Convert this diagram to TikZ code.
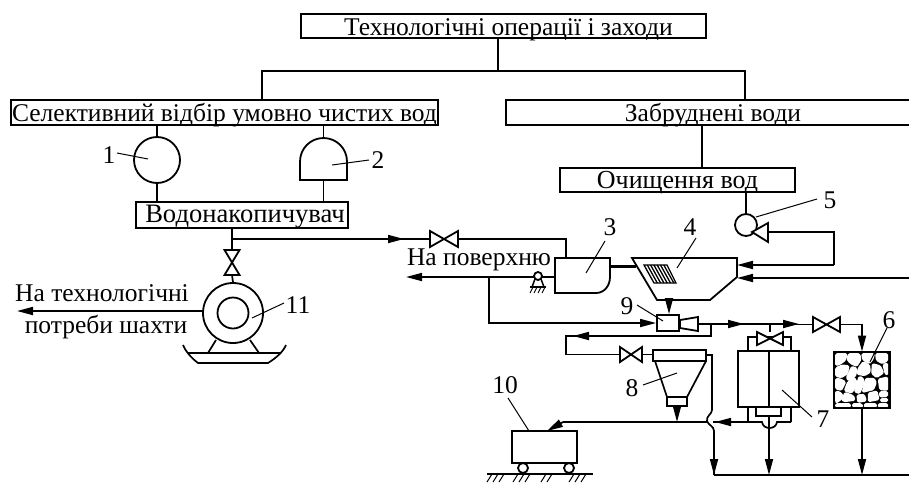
\documentclass[tikz,border=0pt]{standalone}
\usepackage{fontspec}
\setmainfont{Liberation Serif}
\usetikzlibrary{arrows.meta}
\tikzset{
  x=1pt,y=-1pt,
  pipe/.style={line width=1.7pt,line join=miter},
  thin line/.style={line width=1pt},
  flow/.style={pipe,-{Triangle[length=16pt,width=8pt]}},
  titlebox/.style={draw,line width=1.7pt,inner sep=0pt,text height=20pt,text depth=2pt,font=\fontsize{25.5}{25.5}\selectfont},
  lbl/.style={inner sep=0pt,font=\fontsize{25.5}{25.5}\selectfont},
  equip/.style={draw,line width=1.8pt,fill=white},
  cell/.style={fill=white,draw=white,line width=1.7pt,line join=round,rounded corners=1.2pt}
}
\newcommand{\valveH}[5]{% name x y halfw halfh
  \coordinate (#1-l) at (#2-#4,#3);\coordinate (#1-r) at (#2+#4,#3);
  \draw[equip] (#2-#4,#3-#5) -- (#2+#4,#3+#5) -- (#2+#4,#3-#5) -- (#2-#4,#3+#5) -- cycle;}
\newcommand{\valveV}[5]{%
  \coordinate (#1-t) at (#2,#3-#5);\coordinate (#1-b) at (#2,#3+#5);
  \draw[equip] (#2-#4,#3-#5) -- (#2+#4,#3+#5) -- (#2-#4,#3+#5) -- (#2+#4,#3-#5) -- cycle;}
\newcommand{\stone}[1]{\filldraw[cell] #1 -- cycle;}
\begin{document}
\begin{tikzpicture}
\useasboundingbox (0,0) rectangle (909,482);
\clip (0,0) rectangle (909,482);
% title boxes
\node[titlebox,minimum width=405pt,minimum height=24pt] (top) at (503.5,26) {\hspace*{10pt}Технологічні операції і заходи};
\node[titlebox,minimum width=427pt,minimum height=25pt] (sel) at (224.5,112.5) {Селективний відбір умовно чистих вод};
\node[titlebox,minimum width=414pt,minimum height=25pt] (zab) at (713,112.5) {Забруднені води};
\node[titlebox,minimum width=235pt,minimum height=24pt,text height=18pt,font=\fontsize{26}{26}\selectfont] (och) at (677.5,180) {Очищення вод};
\node[titlebox,minimum width=212pt,minimum height=26pt,text height=17pt,text depth=3pt,font=\fontsize{26.6}{26.6}\selectfont] (vod) at (242,215) {\hspace*{6pt}Водонакопичувач};
% tree
\coordinate (tj) at (498,71);
\draw[pipe] (tj |- top.south) -- (tj);
\draw[pipe] (262,100) |- (745,71) -- (745,100);
\draw[pipe] (702,125) -- (702,168);
% equipment 1 and 2
\node[equip,circle,minimum size=46pt,inner sep=0pt] (e1) at (157,160) {};
\draw[pipe] (e1.north |- sel.south) -- (e1.north);
\draw[pipe] (e1.south) -- (e1.south |- vod.north);
\draw[equip] (300,180) -- (300,161.5) .. controls (300,148.5) and (310.5,138) .. (323.5,138) .. controls (336.5,138) and (347,148.5) .. (347,161.5) -- (347,180) -- cycle;
\coordinate (e2t) at (323.5,138);\coordinate (e2b) at (323.5,180);
\draw[pipe] (e2t |- sel.south) -- (e2t);
\draw[pipe] (e2b) -- (e2b |- vod.north);
% valve and pump 11
\coordinate (vj) at (232,239);
\valveV{v11}{232}{262.5}{7.5}{12.5}
\node[equip,circle,minimum size=60pt,inner sep=0pt] (p11) at (233,313) {};
\node[equip,circle,minimum size=31pt,inner sep=0pt] (p11i) at (233,313) {};
\draw[pipe] (vj |- vod.south) -- (v11-t);
\draw[pipe] (v11-b) -- (p11.north);
\coordinate (outl) at (17,311);
\draw[flow] (p11.west |- outl) -- (outl);
\draw[pipe] (216,340) -- (208,353);
\draw[pipe] (250,340) -- (259,353);
\draw[pipe] (188,353) -- (280,353);
\draw[pipe] (183,345) .. controls (185,350) and (190,357) .. (198,363) -- (268,363) .. controls (276,358) and (283,352) .. (286,345);
% main line to valve
\valveH{v3}{444}{239}{14}{8}
\draw[flow] (vj) -- (404,239);
\draw[pipe] (396,239) -- (v3-l);
% tank 3
\draw[equip] (555,258) -- (610,258) -- (610,277) .. controls (610,286) and (604,293) .. (596,293) -- (555,293) -- cycle;
\draw[pipe] (v3-r) -| (566,258);
% tank 4
\draw[equip] (632,258) -- (737,258) -- (737,277) -- (710,300) -- (657,300) -- cycle;
\draw[line width=3pt] (610,266) -- (636,266);
\draw[line width=1.3pt] (644,265) -- (667,265) -- (676,283) -- (654,283) -- cycle;
\foreach \i in {1,2,3,4,5,6}{\draw[line width=1.3pt] (644+\i*3.3,265) -- (654+\i*3.3,283);}
% pump 5
\node[equip,circle,minimum size=22pt,inner sep=0pt] (p5) at (746,225) {};
\draw[pipe] (p5.north |- och.south) -- (p5.north);
\draw[equip] (752,232) -- (768,223) -- (768,242) -- cycle;
\coordinate (p5o) at (768,232);
\coordinate (t4a) at (737,265);\coordinate (t4b) at (737,278);
\draw[pipe] (p5o) -| (834,265);
\draw[flow] (834,265) -- (t4a);
\coordinate (inr) at (909,278);
\draw[flow] (inr) -- (t4b);
% surface line
\coordinate (hj) at (489,277);
\draw[flow] (555,277) -- (406,277);
\draw[line width=1.5pt,fill=white] (532,287) -- (535,279) -- (541,279) -- (544,287);
\node[equip,circle,minimum size=8pt,inner sep=0pt] (rv) at (538,276) {};
\draw[pipe] (530,287) -- (546,287);
\foreach \i in {0,1,2,3}{\draw[line width=.9pt] (533+\i*4,287) -- (530+\i*4,293);}
% ejector 9
\node[equip,rectangle,minimum width=22pt,minimum height=16pt,inner sep=0pt] (e9) at (668,323) {};
\draw[equip] (680,320) -- (698,317) -- (698,331) -- (680,328) -- cycle;
\draw[flow] (hj) |- (e9.west);
\coordinate (e9in) at (669,300);
\draw[flow] (e9in) -- (e9in |- e9.north);
\coordinate (n1) at (698,324);
\coordinate (nj) at (711,324);
\draw[flow] (n1) -- (744,324);
\coordinate (v7j) at (770,324);
\draw[pipe] (736,324) -- (785,324);
\draw[flow] (785,324) -- (799,324);
% valve to 6
\valveH{v6}{826.5}{324.5}{13.5}{7.5}
\draw[pipe] (790,324.5) -- (v6-l);
% box 6
\node[equip,rectangle,minimum width=55pt,minimum height=55pt,inner sep=0pt,fill=black] (b6) at (862,380) {};
\begin{scope}[shift={(820,340)},x=.3333pt,y=-.3333pt]
\stone{(48,42)--(80,42)--(76,60)--(60,72)--(48,76)}
\stone{(86,42)--(118,42)--(122,58)--(110,78)--(92,70)--(82,58)}
\stone{(126,42)--(162,42)--(158,58)--(148,70)--(130,60)}
\stone{(168,42)--(202,42)--(202,62)--(186,70)--(170,60)}
\stone{(48,84)--(66,76)--(86,78)--(82,100)--(64,112)--(48,108)}
\stone{(96,80)--(110,86)--(106,108)--(86,122)--(80,112)}
\stone{(116,84)--(130,66)--(148,76)--(150,96)--(134,106)--(112,102)}
\stone{(158,72)--(180,78)--(190,98)--(170,112)--(156,100)}
\stone{(190,74)--(202,70)--(202,105)--(196,100)}
\stone{(48,116)--(62,118)--(76,126)--(64,150)--(48,146)}
\stone{(84,126)--(104,114)--(110,128)--(96,158)--(74,152)}
\stone{(118,110)--(128,114)--(132,128)--(118,160)--(104,154)}
\stone{(138,116)--(162,116)--(168,128)--(160,148)--(128,156)}
\stone{(176,118)--(202,112)--(202,150)--(180,148)}
\stone{(48,154)--(62,158)--(70,172)--(52,186)--(48,186)}
\stone{(76,158)--(100,168)--(104,180)--(72,184)--(66,178)}
\stone{(112,166)--(132,164)--(138,182)--(114,186)}
\stone{(146,160)--(170,154)--(176,178)--(146,184)}
\stone{(180,156)--(202,156)--(202,168)--(180,170)}
\stone{(184,176)--(202,176)--(202,184)--(182,184)}
\stone{(48,192)--(90,192)--(90,201)--(48,201)}
\stone{(98,192)--(124,192)--(128,201)--(100,201)}
\stone{(134,192)--(168,192)--(168,201)--(134,201)}
\stone{(176,192)--(202,192)--(202,201)--(176,201)}
\end{scope}
\draw[line width=2pt] (b6.south west) rectangle (b6.north east);
\draw[flow] (v6-r) -| (b6.north);
% box 7
\node[equip,rectangle,minimum width=61pt,minimum height=56pt,inner sep=0pt] (b7) at (768.5,379) {};
\coordinate (b7m) at (769,379);
\draw[pipe] (b7m |- b7.north) -- (b7m |- b7.south);
\draw[pipe] (748,351) |- (791,337) -- (791,351);
\draw[pipe] (v7j) -- (770,332);
\valveH{v7}{770}{338.5}{13}{6.5}
\draw[pipe] (748,407) -- (748,422);
\draw[pipe] (791,407) -- (791,422);
\draw[pipe] (756,407) |- (781,416) -- (781,407);
\draw[pipe] (791,422) -- (777,422) .. controls (776,430) and (763,430) .. (762,422) -- (748,422);
% return branch
\valveH{v8}{631}{354.5}{11}{7.5}
\draw[flow] (nj) |- (573,336);
\draw[pipe] (581,336) -- (566,336) |- (v8-l);
% hopper 8
\node[equip,rectangle,minimum width=53pt,minimum height=11pt,inner sep=0pt] (h8) at (679.5,355.5) {};
\draw[pipe] (655,361) -- (667,397);
\draw[pipe] (706,361) -- (687,397);
\node[equip,rectangle,minimum width=20pt,minimum height=9pt,inner sep=0pt] (h8b) at (677,401.5) {};
\draw[pipe] (v8-r) -- (h8.west |- v8-r);
\coordinate (hopj) at (677,422);
\draw[flow] (h8b.south) -- (hopj);
% wagon
\node[equip,rectangle,minimum width=65pt,minimum height=32pt,inner sep=0pt] (wag) at (544.5,447) {};
\draw[flow] (748,422) -- (715,422);
\draw[pipe] (723,422) -- (563,422);
\draw[flow] (563,422) -- (547,431);
\node[equip,circle,minimum size=10pt,inner sep=0pt] (w1) at (523,468) {};
\node[equip,circle,minimum size=10pt,inner sep=0pt] (w2) at (569,468) {};
\draw[pipe] (487,474) -- (593,474);
\foreach \x in {492,498,504,518,524,530,546,552,574,580,586}{\draw[line width=1pt] (\x,474) -- (\x-5,482);}
% hump line
\fill[white] (707.5,417) rectangle (713,427);
\draw[pipe] (706,355) -- (712,355) -- (712,410) .. controls (712,414) and (706,416) .. (707,421) .. controls (708,425) and (714,426) .. (714,431) -- (714,475);
% bottom collector
\coordinate (col1) at (714,475);\coordinate (col2) at (769,475);\coordinate (col3) at (862,475);\coordinate (colr) at (909,475);
\draw[pipe] (col1) -- (colr);
\draw[flow] (714,431) -- (col1);
\draw[flow] (769,416) -- (col2);
\draw[flow] (b6.south) -- (col3);
% texts
\node[lbl] (t1) at (102,293) {На технологічні};
\node[lbl] (t2) at (106,327) {потреби шахти};
\node[lbl] (t3) at (479,260) {На поверхню};
% numbered labels and leaders
\node[lbl] (n1l) at (109,155) {1};
\draw[thin line] (117,153) -- (148,159);
\node[lbl] (n2l) at (378,160) {2};
\draw[thin line] (332,165) -- (369,160);
\node[lbl] (n3l) at (610,227) {3};
\draw[thin line] (605,241) -- (586,273);
\node[lbl] (n4l) at (690,227) {4};
\draw[thin line] (696,238) -- (677,268);
\node[lbl] (n5l) at (830,200) {5};
\draw[thin line] (756,217) -- (817,199);
\node[lbl] (n6l) at (889,320) {6};
\draw[thin line] (887,328) -- (870,362);
\node[lbl] (n7l) at (823,419) {7};
\draw[thin line] (782,390) -- (812,417);
\node[lbl] (n8l) at (632,388) {8};
\draw[thin line] (643,385) -- (677,373);
\node[lbl] (n9l) at (627,306) {9};
\draw[thin line] (637,305) -- (663,321);
\node[lbl] (n10l) at (505,385) {10};
\draw[thin line] (508,398) -- (529,431);
\node[lbl] (n11l) at (298,305) {11};
\draw[thin line] (252,318) -- (284,303);
\end{tikzpicture}
\end{document}
